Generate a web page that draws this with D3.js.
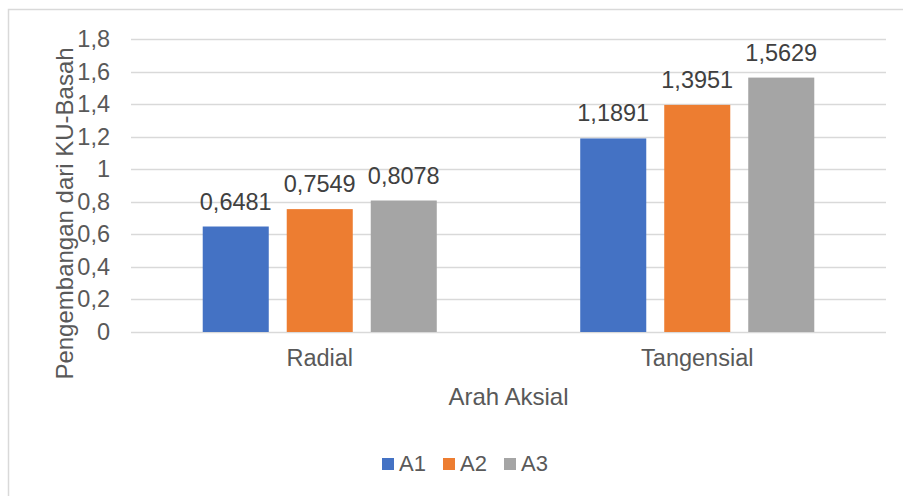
<!DOCTYPE html>
<html>
<head>
<meta charset="utf-8">
<script src="https://cdn.jsdelivr.net/npm/d3@7"></script>
<style>
  body { margin: 0; background: #fff; }
  svg { display: block; }
  text { font-family: "Liberation Sans", Arial, sans-serif; }
</style>
</head>
<body>
<div class="chart"></div>
<script>
const w = 903;
const h = 496;

// data
const categories = ["Radial", "Tangensial"];
const series = ["A1", "A2", "A3"];
const valuesA1 = [0.6481, 1.1891];
const valuesA2 = [0.7549, 1.3951];
const valuesA3 = [0.8078, 1.5629];
const yTicks = [0, 0.2, 0.4, 0.6, 0.8, 1, 1.2, 1.4, 1.6, 1.8];
const colors = ["#4472C4", "#ED7D31", "#A5A5A5"];

const values = [valuesA1, valuesA2, valuesA3];
const rows = categories.map((c, i) => ({
    cat: c,
    vals: series.map((s, j) => ({ key: s, value: values[j][i] }))
}));

const textColor = "#595959";
const fontFamily = "'Liberation Sans', Arial, sans-serif";
const fmt = v => String(v).replace(".", ",");

const svg = d3.select(".chart")
    .append("svg")
    .attr("width", w)
    .attr("height", h)
    .attr("font-family", fontFamily);

// chart border (right / bottom edges fall outside the picture)
svg.append("rect")
    .attr("x", 8.5)
    .attr("y", 9.5)
    .attr("width", 920)
    .attr("height", 520)
    .attr("fill", "#fff")
    .attr("stroke", "#D9D9D9")
    .attr("stroke-width", 1.5);

const plot = { left: 131, right: 886, top: 39, bottom: 332 };

// scales
const yScale = d3.scaleLinear()
    .domain([0, 1.8])
    .range([plot.bottom, plot.top]);

const x0 = d3.scaleBand()
    .domain(categories)
    .range([plot.left, plot.right]);

const bw = x0.bandwidth();
const x1 = d3.scaleBand()
    .domain(series)
    .range([bw * 0.19, bw * 0.81])
    .paddingInner(0.214);

const color = d3.scaleOrdinal().domain(series).range(colors);

// gridlines
svg.append("g")
    .selectAll("line")
    .data(yTicks)
    .enter()
    .append("line")
    .attr("x1", plot.left)
    .attr("x2", plot.right)
    .attr("y1", d => Math.round(yScale(d)) + 0.5)
    .attr("y2", d => Math.round(yScale(d)) + 0.5)
    .attr("stroke", "#D9D9D9")
    .attr("stroke-width", 1.5);

// y axis labels
const yAxis = d3.axisLeft(yScale)
    .tickValues(yTicks)
    .tickFormat(fmt)
    .tickSize(0)
    .tickPadding(21);

const yg = svg.append("g")
    .attr("transform", `translate(${plot.left}, 0)`)
    .call(yAxis)
    .attr("font-family", fontFamily);
yg.select(".domain").remove();
yg.selectAll("text")
    .attr("fill", textColor)
    .style("font-size", "23.5px");

// x axis labels
const xAxis = d3.axisBottom(x0).tickSize(0).tickPadding(17);
const xg = svg.append("g")
    .attr("transform", `translate(0, ${plot.bottom})`)
    .call(xAxis)
    .attr("font-family", fontFamily);
xg.select(".domain").remove();
xg.selectAll("text")
    .attr("fill", textColor)
    .style("font-size", "23.5px");

// bars
const groups = svg.append("g")
    .selectAll("g")
    .data(rows)
    .enter()
    .append("g")
    .attr("transform", d => `translate(${x0(d.cat)}, 0)`);

groups.selectAll("rect")
    .data(d => d.vals)
    .enter()
    .append("rect")
    .attr("x", d => x1(d.key))
    .attr("y", d => yScale(d.value))
    .attr("width", x1.bandwidth())
    .attr("height", d => yScale(0) - yScale(d.value))
    .attr("fill", d => color(d.key));

// data labels
groups.selectAll("text")
    .data(d => d.vals)
    .enter()
    .append("text")
    .attr("x", d => x1(d.key) + x1.bandwidth() / 2)
    .attr("y", d => yScale(d.value) - 17)
    .attr("text-anchor", "middle")
    .attr("fill", "#404040")
    .style("font-size", "23.5px")
    .text(d => fmt(d.value));

// axis titles
svg.append("text")
    .attr("x", (plot.left + plot.right) / 2)
    .attr("y", 405)
    .attr("text-anchor", "middle")
    .attr("fill", textColor)
    .style("font-size", "24px")
    .text("Arah Aksial");

svg.append("text")
    .attr("transform", `translate(73, ${(plot.top + plot.bottom) / 2 + 28}) rotate(-90)`)
    .attr("text-anchor", "middle")
    .attr("fill", textColor)
    .style("font-size", "24px")
    .text("Pengembangan dari KU-Basah");

// legend
const legendX = [382, 443, 504];
const legend = svg.append("g")
    .selectAll("g")
    .data(series)
    .enter()
    .append("g")
    .attr("transform", (d, i) => `translate(${legendX[i]}, 458)`);

legend.append("rect")
    .attr("width", 12)
    .attr("height", 12)
    .attr("fill", d => color(d));

legend.append("text")
    .attr("x", 17)
    .attr("y", 12.5)
    .attr("fill", textColor)
    .style("font-size", "22px")
    .text(d => d);
</script>
</body>
</html>
